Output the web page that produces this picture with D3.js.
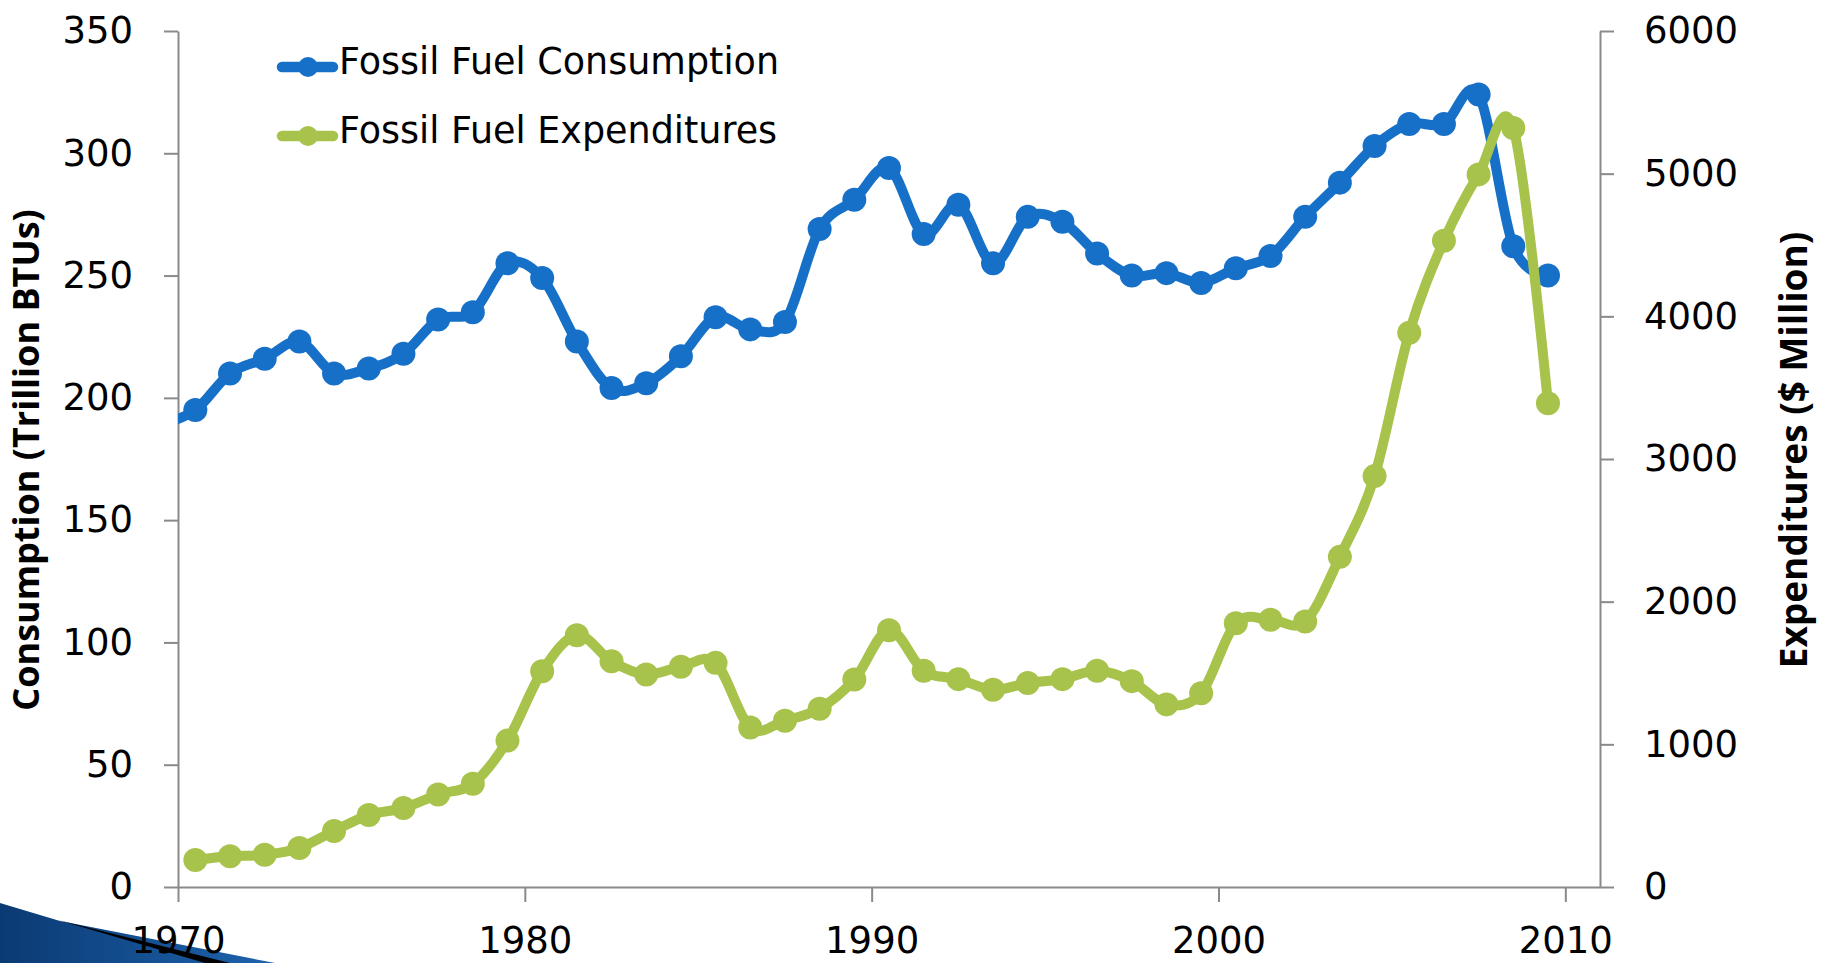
<!DOCTYPE html>
<html>
<head>
<meta charset="utf-8">
<script src="https://cdn.jsdelivr.net/npm/d3@7"></script>
<style>
  body { margin: 0; background: #fff; }
  svg { display: block; }
  .axis path, .axis line { stroke: #8a8a8a; stroke-width: 2; }
  .axis text { font-family: "DejaVu Sans", sans-serif; font-size: 37px; fill: #000; }
</style>
</head>
<body>
<svg id="chart" width="1825" height="963"></svg>
<script>
// years (1969 point only exists for consumption, it falls left of the axis)
var years = [1969, 1970, 1971, 1972, 1973, 1974, 1975, 1976, 1977, 1978, 1979,
             1980, 1981, 1982, 1983, 1984, 1985, 1986, 1987, 1988, 1989,
             1990, 1991, 1992, 1993, 1994, 1995, 1996, 1997, 1998, 1999,
             2000, 2001, 2002, 2003, 2004, 2005, 2006, 2007, 2008, 2009];

// Trillion BTUs
var consumption = [189, 195, 210, 216, 223, 210, 212, 218, 232, 235, 255,
                   249, 223, 204, 206, 217, 233, 228, 231, 269, 281,
                   294, 267, 279, 255, 274, 272, 259, 250, 251, 247,
                   253, 258, 274, 288, 303, 312, 312, 324, 262, 250];

// $ Million
var expenditures = [null, 190, 216, 226, 274, 393, 505, 553, 649, 724, 1026,
                    1513, 1765, 1582, 1490, 1544, 1571, 1118, 1166, 1250, 1454,
                    1800, 1516, 1457, 1382, 1430, 1457, 1515, 1443, 1280, 1358,
                    1848, 1874, 1861, 2314, 2880, 3885, 4530, 4995, 5320, 3390];

var xTicks = [1970, 1980, 1990, 2000, 2010];
var leftTicks = [0, 50, 100, 150, 200, 250, 300, 350];
var rightTicks = [0, 1000, 2000, 3000, 4000, 5000, 6000];

var seriesNames = ["Fossil Fuel Consumption", "Fossil Fuel Expenditures"];
var colors = ["#1770c8", "#a7c34b"];

var margin = { top: 31, right: 225, bottom: 76, left: 178 };
var W = 1825, H = 963;

var x = d3.scaleLinear().domain([1970, 2011]).range([margin.left, W - margin.right]);
var yL = d3.scaleLinear().domain([0, 350]).range([H - margin.bottom, margin.top]);
var yR = d3.scaleLinear().domain([0, 6000]).range([H - margin.bottom, margin.top]);

var svg = d3.select("#chart");
var defs = svg.append("defs");

// slide decoration bottom-left
var grad = defs.append("linearGradient").attr("id", "swoosh").attr("x1", 0).attr("x2", 1);
grad.append("stop").attr("offset", 0).attr("stop-color", "#0a3a73");
grad.append("stop").attr("offset", 1).attr("stop-color", "#1e63ad");
svg.append("path")
    .attr("d", "M0,903 L60,921 L275,963 L0,963 Z")
    .attr("fill", "url(#swoosh)");
svg.append("path")
    .attr("d", "M58,920 L230,963 L205,963 Z")
    .attr("fill", "#000");

defs.append("clipPath").attr("id", "plotClip")
    .append("rect")
    .attr("x", margin.left).attr("y", 0)
    .attr("width", W - margin.right - margin.left).attr("height", H);

// axes
svg.append("g")
    .attr("class", "axis")
    .attr("transform", "translate(0," + (H - margin.bottom) + ")")
    .call(d3.axisBottom(x).tickValues(xTicks).tickFormat(d3.format("d"))
        .tickSizeInner(15).tickSizeOuter(0).tickPadding(25));

svg.append("g")
    .attr("class", "axis")
    .attr("transform", "translate(" + margin.left + ",0)")
    .call(d3.axisLeft(yL).tickValues(leftTicks).tickSizeInner(14).tickSizeOuter(0).tickPadding(31));

svg.append("g")
    .attr("class", "axis")
    .attr("transform", "translate(" + (W - margin.right) + ",0)")
    .call(d3.axisRight(yR).tickValues(rightTicks).tickFormat(d3.format("d"))
        .tickSizeInner(14).tickSizeOuter(0).tickPadding(30));

// axis titles
svg.append("text")
    .attr("transform", "translate(39,460) rotate(-90)")
    .attr("text-anchor", "middle")
    .style("font-family", "'Open Sans', sans-serif")
    .style("font-weight", "bold")
    .style("font-size", "36px")
    .text("Consumption (Trillion BTUs)");

svg.append("text")
    .attr("transform", "translate(1807,450) rotate(-90)")
    .attr("text-anchor", "middle")
    .style("font-family", "'Open Sans', sans-serif")
    .style("font-weight", "bold")
    .style("font-size", "37px")
    .text("Expenditures ($ Million)");

// series
var plot = svg.append("g").attr("clip-path", "url(#plotClip)");

var series = [
    { name: seriesNames[0], color: colors[0], y: yL,
      points: years.map(function (yr, i) { return { x: yr + 0.5, v: consumption[i] }; }) },
    { name: seriesNames[1], color: colors[1], y: yR,
      points: years.map(function (yr, i) { return { x: yr + 0.5, v: expenditures[i] }; })
                   .filter(function (d) { return d.v != null; }) }
];

series.forEach(function (s) {
    var line = d3.line()
        .x(function (d) { return x(d.x); })
        .y(function (d) { return s.y(d.v); })
        .curve(d3.curveCatmullRom.alpha(0));

    plot.append("path")
        .datum(s.points)
        .attr("fill", "none")
        .attr("stroke", s.color)
        .attr("stroke-width", 10)
        .attr("stroke-linejoin", "round")
        .attr("stroke-linecap", "round")
        .attr("d", line);

    plot.selectAll(null)
        .data(s.points)
        .enter().append("circle")
        .attr("cx", function (d) { return x(d.x); })
        .attr("cy", function (d) { return s.y(d.v); })
        .attr("r", 12)
        .attr("fill", s.color);
});

// legend
var legend = svg.append("g").attr("transform", "translate(277,67)");
series.forEach(function (s, i) {
    var g = legend.append("g").attr("transform", "translate(0," + (i * 69) + ")");
    g.append("line")
        .attr("x1", 5).attr("x2", 56).attr("y1", 0).attr("y2", 0)
        .attr("stroke", s.color).attr("stroke-width", 10.5).attr("stroke-linecap", "round");
    g.append("circle").attr("cx", 31).attr("cy", 0).attr("r", 10).attr("fill", s.color);
    g.append("text")
        .attr("x", 62).attr("y", 7)
        .style("font-family", "'DejaVu Sans', sans-serif")
        .style("font-size", "36.5px")
        .text(s.name);
});
</script>
</body>
</html>
